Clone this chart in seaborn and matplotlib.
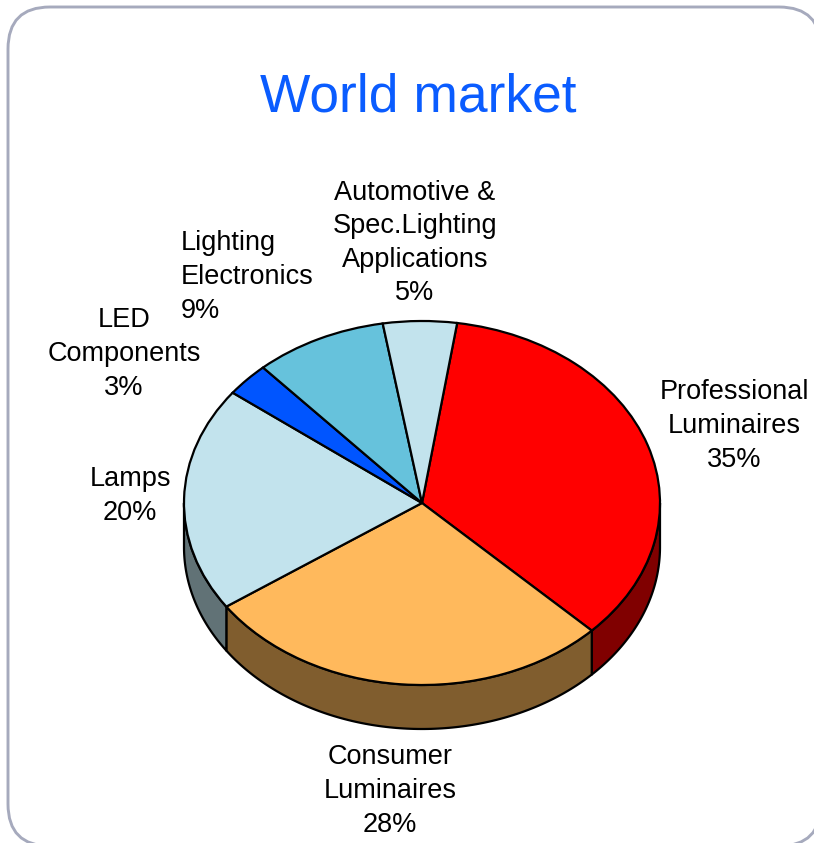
import numpy as np
import matplotlib
matplotlib.use("Agg")
import matplotlib.pyplot as plt
import seaborn as sns
from matplotlib.patches import FancyBboxPatch, Polygon
from matplotlib.transforms import Affine2D

# Market shares, listed clockwise from the top of the pie
segments = ["Professional\nLuminaires", "Consumer\nLuminaires", "Lamps",
            "LED\nComponents", "Lighting\nElectronics",
            "Automotive &\nSpec.Lighting\nApplications"]
shares = [35, 28, 20, 3, 9, 5]
top_colors = ["#FF0000", "#FFB95C", "#C2E3ED", "#0055FF", "#66C2DC", "#C2E3ED"]
side_colors = ["#800000", "#805D2E", "#617276", "#002B80", "#33616E", "#617276"]

title_text = "World market"
title_color = "#0A5CFF"

# Label anchors in canvas pixels: (x, y from top, horizontal alignment)
label_places = [(734, 426, "center"), (390, 791, "center"), (130, 496, "center"),
                (124, 354, "center"), (181, 277, "left"), (415, 243, "center")]

WIDTH, HEIGHT = 814, 843
CX, CY = 422, HEIGHT - 503      # pie centre
RX, RY = 238, 182               # semi-axes of the tilted top face
DEPTH = 44                      # height of the cylinder wall
LINE = 1.6

# Frame edges in canvas pixels; it runs slightly past the right and bottom sides
FRAME_LEFT, FRAME_RIGHT, FRAME_TOP, FRAME_BOTTOM, FRAME_RADIUS = 8, 821, 7, 846, 42

sns.set_theme(style="white")
plt.rcParams["font.family"] = ["Liberation Sans", "DejaVu Sans"]

fig = plt.figure(figsize=(WIDTH / 100, HEIGHT / 100), dpi=100, facecolor="white")
ax = fig.add_axes([0, 0, 1, 1])

wedges, _ = ax.pie(shares, colors=top_colors, startangle=81.5, counterclock=False,
                   wedgeprops={"edgecolor": "black", "linewidth": LINE, "zorder": 5})
ax.set_xlim(0, WIDTH)
ax.set_ylim(0, HEIGHT)
ax.set_aspect("auto")
ax.axis("off")

# Squash the unit pie into the tilted ellipse
squash = Affine2D().scale(RX, RY).translate(CX, CY)
for wedge in wedges:
    wedge.set_transform(squash + ax.transData)

# Wall of the cylinder: only the front half of each slice's rim can be seen
for wedge, dark in zip(wedges, side_colors):
    for low, high in [(wedge.theta1, wedge.theta2), (wedge.theta1 + 360, wedge.theta2 + 360),
                      (wedge.theta1 - 360, wedge.theta2 - 360)]:
        start, stop = max(low, 180), min(high, 360)
        if stop <= start:
            continue
        t = np.radians(np.linspace(start, stop, 120))
        x = CX + RX * np.cos(t)
        y = CY + RY * np.sin(t)
        rim = np.column_stack([np.r_[x, x[::-1]], np.r_[y, y[::-1] - DEPTH]])
        ax.add_patch(Polygon(rim, closed=True, facecolor=dark, edgecolor="black",
                             linewidth=LINE, joinstyle="round", zorder=3))

# A filled face keeps the renderer from clipping the curved corners at the canvas edge
ax.add_patch(FancyBboxPatch(
    (FRAME_LEFT + FRAME_RADIUS, HEIGHT - FRAME_BOTTOM + FRAME_RADIUS),
    FRAME_RIGHT - FRAME_LEFT - 2 * FRAME_RADIUS,
    FRAME_BOTTOM - FRAME_TOP - 2 * FRAME_RADIUS,
    boxstyle=f"round,pad={FRAME_RADIUS},rounding_size={FRAME_RADIUS}",
    facecolor="white", edgecolor="#A6AABD", linewidth=2.1, zorder=2))

ax.text(418, HEIGHT - 98, title_text, color=title_color, fontsize=38.4,
        ha="center", va="center", zorder=6)

for name, share, (px, py, align) in zip(segments, shares, label_places):
    ax.text(px, HEIGHT - py, f"{name}\n{share}%", color="black", fontsize=19.5,
            ha=align, va="center", multialignment=align, linespacing=1.38, zorder=6)

fig.savefig("out.png", dpi=100, facecolor="white")
